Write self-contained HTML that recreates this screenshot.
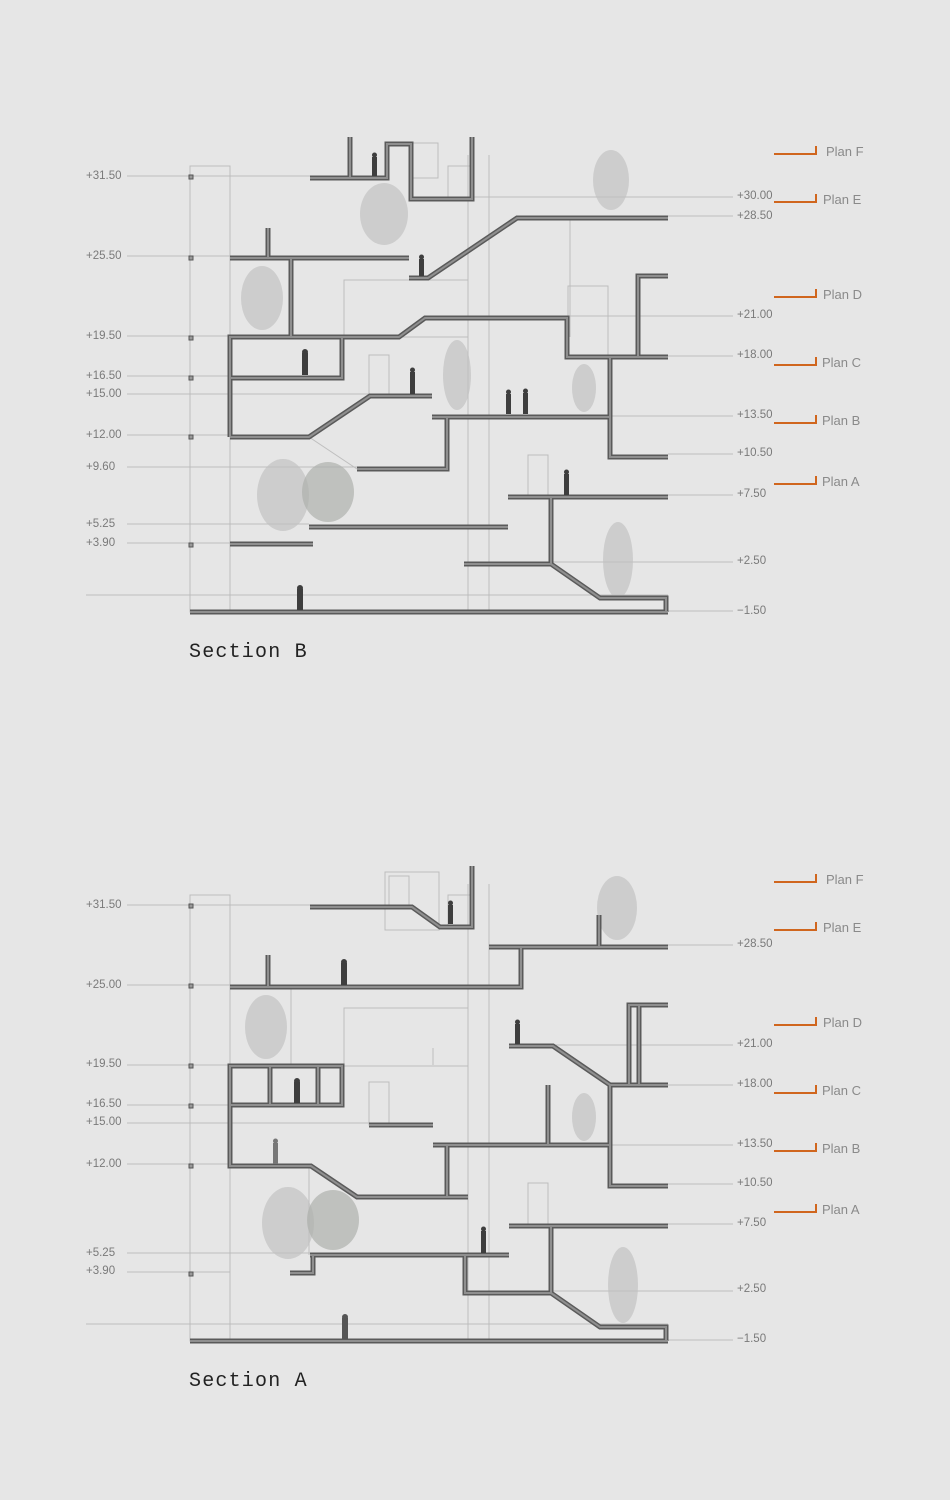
<!DOCTYPE html>
<html><head><meta charset="utf-8"><style>
html,body{margin:0;padding:0;background:#e6e6e6;}
svg{display:block;}
.g{stroke:#bdbdbd;stroke-width:1;fill:none;}
.o{stroke:#5a5a5a;stroke-width:5;fill:none;stroke-linejoin:miter;}
.i{stroke:#8f8f8f;stroke-width:2;fill:none;stroke-linejoin:miter;}
.lb{font-family:"Liberation Sans",sans-serif;font-size:11.5px;fill:#7a7a7a;}
.pl{font-family:"Liberation Sans",sans-serif;font-size:13px;fill:#8a8a8a;}
.tt{font-family:"Liberation Mono",monospace;font-size:20px;fill:#222;letter-spacing:1.2px;}
.tag{stroke:#d0661e;stroke-width:2;fill:none;}
.tr{fill:#c2c2c2;opacity:.7;}
.p{fill:#3e3e3e;}
.sq{fill:#999;stroke:#555;stroke-width:1;}
</style></head><body>
<svg width="950" height="1500" viewBox="0 0 950 1500" xmlns="http://www.w3.org/2000/svg">
<defs>
<path id="b1" d="M310 178H387V144H411V199H472V137 M350 137V178 M409 278H428L517 218H668 M230 258H409 M268 228V258 M291 258V337 M230 437V337H399L425 318H567V357H668 M230 378H342V337 M638 357V276H668 M610 357V457H668 M432 417H610 M447 417V469H357 M230 437H309L370 396H432 M508 497H668 M551 497V564H464 M551 564L600 598H666V612 M309 527H508 M230 544H313 M190 612H668"/>
<path id="a1" d="M310 907H412L440 927H472V866 M489 947H668 M521 947V987H230 M268 955V987 M599 915V947 M668 1005H629V1085 M639 1005V1085 M509 1046H553L610 1085H668 M610 1085V1186H668 M230 1066H342V1105H230Z M270 1066V1105 M318 1066V1105 M230 1105V1166H311L357 1197H468 M433 1145H610 M447 1145V1197 M369 1125H433 M548 1085V1145 M509 1226H668 M551 1226V1293H465V1255 M310 1255H509 M313 1255V1273H290 M551 1293L600 1327H666V1341 M190 1341H668"/>
</defs>

<g class="g">
<rect x="190" y="166" width="40" height="446"/>
<line x1="468" y1="155" x2="468" y2="612"/><line x1="489" y1="155" x2="489" y2="612"/>
<line x1="127" y1="176" x2="310" y2="176"/><line x1="127" y1="256" x2="230" y2="256"/>
<line x1="127" y1="336" x2="230" y2="336"/><line x1="127" y1="376" x2="230" y2="376"/>
<line x1="127" y1="394" x2="432" y2="394"/><line x1="127" y1="435" x2="230" y2="435"/>
<line x1="127" y1="467" x2="357" y2="467"/><line x1="127" y1="524" x2="309" y2="524"/>
<line x1="127" y1="543" x2="230" y2="543"/><line x1="86" y1="595" x2="668" y2="595"/>
<line x1="472" y1="197" x2="733" y2="197"/><line x1="668" y1="216" x2="733" y2="216"/>
<line x1="567" y1="316" x2="733" y2="316"/><line x1="668" y1="356" x2="733" y2="356"/>
<line x1="610" y1="416" x2="733" y2="416"/><line x1="668" y1="454" x2="733" y2="454"/>
<line x1="668" y1="495" x2="733" y2="495"/><line x1="551" y1="562" x2="733" y2="562"/>
<line x1="668" y1="611" x2="733" y2="611"/>
<rect x="410" y="143" width="28" height="35"/><rect x="448" y="166" width="24" height="33"/>
<line x1="570" y1="218" x2="570" y2="337"/><rect x="568" y="286" width="40" height="71"/>
<rect x="344" y="280" width="124" height="57"/>
<rect x="369" y="355" width="20" height="40"/><rect x="528" y="455" width="20" height="42"/>
<line x1="309" y1="437" x2="357" y2="469"/>
</g>
<g class="sq"><rect x="189" y="175" width="4" height="4"/><rect x="189" y="256" width="4" height="4"/><rect x="189" y="336" width="4" height="4"/><rect x="189" y="376" width="4" height="4"/><rect x="189" y="435" width="4" height="4"/><rect x="189" y="543" width="4" height="4"/></g>
<ellipse class="tr" cx="384" cy="214" rx="24" ry="31"/>
<ellipse class="tr" cx="262" cy="298" rx="21" ry="32"/>
<ellipse class="tr" cx="611" cy="180" rx="18" ry="30"/>
<ellipse class="tr" cx="457" cy="375" rx="14" ry="35"/>
<ellipse class="tr" cx="584" cy="388" rx="12" ry="24"/>
<ellipse class="tr" cx="283" cy="495" rx="26" ry="36"/>
<ellipse class="tr" cx="328" cy="492" rx="26" ry="30" style="fill:#aeb1ac"/>
<ellipse class="tr" cx="618" cy="560" rx="15" ry="38"/>
<use href="#b1" class="o"/><use href="#b1" class="i"/>
<g class="p">
<rect x="372" y="157" width="5" height="19"/><circle cx="374.5" cy="155" r="2.5"/>
<rect x="419" y="259" width="5" height="17"/><circle cx="421.5" cy="257" r="2.5"/>
<rect x="302" y="353" width="6" height="22"/><circle cx="305" cy="352" r="3"/>
<rect x="410" y="372" width="5" height="22"/><circle cx="412.5" cy="370" r="2.5"/>
<rect x="506" y="394" width="5" height="20"/><circle cx="508.5" cy="392" r="2.5"/>
<rect x="523" y="393" width="5" height="21"/><circle cx="525.5" cy="391" r="2.5"/>
<rect x="564" y="474" width="5" height="21"/><circle cx="566.5" cy="472" r="2.5"/>
<rect x="297" y="589" width="6" height="21"/><circle cx="300" cy="588" r="3"/>
</g>
<g class="lb">
<text x="86" y="179">+31.50</text><text x="86" y="259">+25.50</text><text x="86" y="339">+19.50</text>
<text x="86" y="379">+16.50</text><text x="86" y="397">+15.00</text><text x="86" y="438">+12.00</text>
<text x="86" y="470">+9.60</text><text x="86" y="527">+5.25</text><text x="86" y="546">+3.90</text>
<text x="737" y="199">+30.00</text><text x="737" y="219">+28.50</text><text x="737" y="318">+21.00</text>
<text x="737" y="358">+18.00</text><text x="737" y="418">+13.50</text><text x="737" y="456">+10.50</text>
<text x="737" y="497">+7.50</text><text x="737" y="564">+2.50</text><text x="737" y="614">−1.50</text>
</g>
<g class="tag">
<path d="M774 154H816V146"/><path d="M774 202H816V194"/><path d="M774 297H816V289"/>
<path d="M774 365H816V357"/><path d="M774 423H816V415"/><path d="M774 484H816V476"/>
</g>
<g class="pl">
<text x="826" y="156">Plan F</text><text x="823" y="204">Plan E</text><text x="823" y="299">Plan D</text>
<text x="822" y="367">Plan C</text><text x="822" y="425">Plan B</text><text x="822" y="486">Plan A</text>
</g>
<text class="tt" x="189" y="657">Section B</text>

<g class="g">
<rect x="190" y="895" width="40" height="446"/>
<line x1="468" y1="884" x2="468" y2="1341"/><line x1="489" y1="884" x2="489" y2="1341"/>
<line x1="127" y1="905" x2="310" y2="905"/><line x1="127" y1="985" x2="230" y2="985"/>
<line x1="127" y1="1065" x2="230" y2="1065"/><line x1="127" y1="1105" x2="230" y2="1105"/>
<line x1="127" y1="1123" x2="369" y2="1123"/><line x1="127" y1="1164" x2="230" y2="1164"/>
<line x1="127" y1="1253" x2="310" y2="1253"/><line x1="127" y1="1272" x2="230" y2="1272"/>
<line x1="86" y1="1324" x2="668" y2="1324"/>
<line x1="668" y1="945" x2="733" y2="945"/><line x1="553" y1="1045" x2="733" y2="1045"/>
<line x1="668" y1="1085" x2="733" y2="1085"/><line x1="610" y1="1145" x2="733" y2="1145"/>
<line x1="668" y1="1184" x2="733" y2="1184"/><line x1="668" y1="1224" x2="733" y2="1224"/>
<line x1="551" y1="1291" x2="733" y2="1291"/><line x1="668" y1="1340" x2="733" y2="1340"/>
<rect x="385" y="872" width="54" height="58"/><rect x="389" y="876" width="20" height="31"/>
<rect x="448" y="895" width="24" height="34"/>
<rect x="344" y="1008" width="124" height="58"/>
<line x1="433" y1="1048" x2="433" y2="1065"/>
<rect x="369" y="1082" width="20" height="43"/><rect x="528" y="1183" width="20" height="43"/>
<line x1="291" y1="987" x2="291" y2="1066"/><line x1="309" y1="1166" x2="309" y2="1255"/>
</g>
<g class="sq"><rect x="189" y="904" width="4" height="4"/><rect x="189" y="984" width="4" height="4"/><rect x="189" y="1064" width="4" height="4"/><rect x="189" y="1104" width="4" height="4"/><rect x="189" y="1164" width="4" height="4"/><rect x="189" y="1272" width="4" height="4"/></g>
<ellipse class="tr" cx="266" cy="1027" rx="21" ry="32"/>
<ellipse class="tr" cx="617" cy="908" rx="20" ry="32"/>
<ellipse class="tr" cx="584" cy="1117" rx="12" ry="24"/>
<ellipse class="tr" cx="288" cy="1223" rx="26" ry="36"/>
<ellipse class="tr" cx="333" cy="1220" rx="26" ry="30" style="fill:#aeb1ac"/>
<ellipse class="tr" cx="623" cy="1285" rx="15" ry="38"/>
<use href="#a1" class="o"/><use href="#a1" class="i"/>
<g class="p">
<rect x="448" y="905" width="5" height="19"/><circle cx="450.5" cy="903" r="2.5"/>
<rect x="341" y="963" width="6" height="22"/><circle cx="344" cy="962" r="3"/>
<rect x="515" y="1024" width="5" height="20"/><circle cx="517.5" cy="1022" r="2.5"/>
<rect x="294" y="1082" width="6" height="21"/><circle cx="297" cy="1081" r="3"/>
<rect x="273" y="1143" width="5" height="21" style="fill:#777"/><circle cx="275.5" cy="1141" r="2.5" style="fill:#777"/>
<rect x="481" y="1231" width="5" height="22"/><circle cx="483.5" cy="1229" r="2.5"/>
<rect x="342" y="1318" width="6" height="21" style="fill:#555"/><circle cx="345" cy="1317" r="3" style="fill:#555"/>
</g>
<g class="lb">
<text x="86" y="908">+31.50</text><text x="86" y="988">+25.00</text><text x="86" y="1067">+19.50</text>
<text x="86" y="1107">+16.50</text><text x="86" y="1125">+15.00</text><text x="86" y="1167">+12.00</text>
<text x="86" y="1256">+5.25</text><text x="86" y="1274">+3.90</text>
<text x="737" y="947">+28.50</text><text x="737" y="1047">+21.00</text><text x="737" y="1087">+18.00</text>
<text x="737" y="1147">+13.50</text><text x="737" y="1186">+10.50</text><text x="737" y="1226">+7.50</text>
<text x="737" y="1292">+2.50</text><text x="737" y="1342">−1.50</text>
</g>
<g class="tag">
<path d="M774 882H816V874"/><path d="M774 930H816V922"/><path d="M774 1025H816V1017"/>
<path d="M774 1093H816V1085"/><path d="M774 1151H816V1143"/><path d="M774 1212H816V1204"/>
</g>
<g class="pl">
<text x="826" y="884">Plan F</text><text x="823" y="932">Plan E</text><text x="823" y="1027">Plan D</text>
<text x="822" y="1095">Plan C</text><text x="822" y="1153">Plan B</text><text x="822" y="1214">Plan A</text>
</g>
<text class="tt" x="189" y="1386">Section A</text>
</svg>
</body></html>
